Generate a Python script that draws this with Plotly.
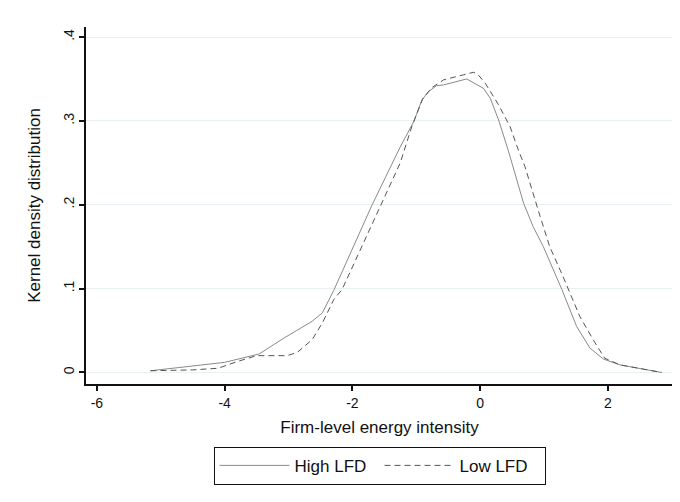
import plotly.graph_objects as go

# High LFD (solid)
high_x = [-5.16, -4.5, -4.0, -3.46, -3.07, -2.63, -2.47, -2.29, -1.69, -1.25, -1.04, -0.91,
          -0.81, -0.68, -0.57, -0.21, 0.05, 0.16, 0.29, 0.44, 0.68, 0.83, 0.99, 1.28, 1.51,
          1.72, 1.93, 2.19, 2.84]
high_y = [0.002, 0.008, 0.012, 0.022, 0.041, 0.061, 0.071, 0.098, 0.200, 0.269, 0.299, 0.325,
          0.335, 0.342, 0.343, 0.350, 0.339, 0.327, 0.301, 0.265, 0.202, 0.174, 0.150, 0.099,
          0.055, 0.029, 0.016, 0.009, 0.000]

# Low LFD (dashed)
low_x = [-5.16, -4.5, -4.1, -3.8, -3.5, -3.02, -2.86, -2.63, -2.47, -2.29, -2.16, -1.56, -1.25,
         -1.07, -0.9, -0.75, -0.57, -0.26, -0.10, -0.03, 0.08, 0.29, 0.47, 0.60, 0.70, 0.94,
         1.09, 1.30, 1.56, 1.77, 1.95, 2.19, 2.84]
low_y = [0.002, 0.003, 0.005, 0.013, 0.020, 0.020, 0.024, 0.039, 0.059, 0.087, 0.099, 0.200,
         0.250, 0.293, 0.326, 0.340, 0.349, 0.355, 0.358, 0.355, 0.345, 0.319, 0.293, 0.265,
         0.246, 0.186, 0.150, 0.114, 0.067, 0.039, 0.017, 0.009, 0.000]

x_ticks = [-6, -4, -2, 0, 2]
x_ticktext = ["-6", "-4", "-2", "0", "2"]
y_ticks = [0, 0.1, 0.2, 0.3, 0.4]
y_ticktext = ["0", ".1", ".2", ".3", ".4"]

FONT = "Liberation Sans, Arial, sans-serif"

fig = go.Figure()
fig.add_trace(go.Scatter(x=high_x, y=high_y, mode="lines", name="High LFD",
                         line=dict(color="#8a8a8a", width=1)))
fig.add_trace(go.Scatter(x=low_x, y=low_y, mode="lines", name="Low LFD",
                         line=dict(color="#555555", width=1, dash="6px,4px")))

fig.update_layout(
    width=672, height=494,
    margin=dict(l=78, r=7, t=19, b=118, autoexpand=False),
    paper_bgcolor="white", plot_bgcolor="white",
    font=dict(family=FONT, color="#111111", size=14),
    showlegend=True,
    legend=dict(orientation="h", x=0.5, xanchor="center", y=-0.176, yanchor="top",
                bordercolor="#111111", borderwidth=1, font=dict(size=17, family=FONT),
                entrywidth=80, itemwidth=70),
    xaxis=dict(range=[-6.17, 3.02], tickvals=x_ticks, ticktext=x_ticktext, automargin=False,
               showgrid=False, zeroline=False, showline=True, linecolor="#111111",
               linewidth=1.5, ticks="outside", ticklen=5, tickwidth=1.5, tickcolor="#111111",
               tickfont=dict(size=14),
               title=dict(text="Firm-level energy intensity", font=dict(size=17), standoff=12)),
    yaxis=dict(range=[-0.0138, 0.412], tickvals=y_ticks, ticktext=y_ticktext, tickangle=-90,
               automargin=False,
               showgrid=True, gridcolor="#e8f0f1", gridwidth=1, zeroline=False,
               showline=True, linecolor="#111111", linewidth=1.5, ticks="outside", ticklen=5,
               tickwidth=1.5, tickcolor="#111111", tickfont=dict(size=14),
               title=dict(text="Kernel density distribution", font=dict(size=17), standoff=16)),
    shapes=[dict(type="line", xref="paper", yref="paper", x0=-0.129, x1=1.02, y0=1.056, y1=1.056,
                 line=dict(color="#e6eef0", width=1))],
)

fig.write_html("out.html")
